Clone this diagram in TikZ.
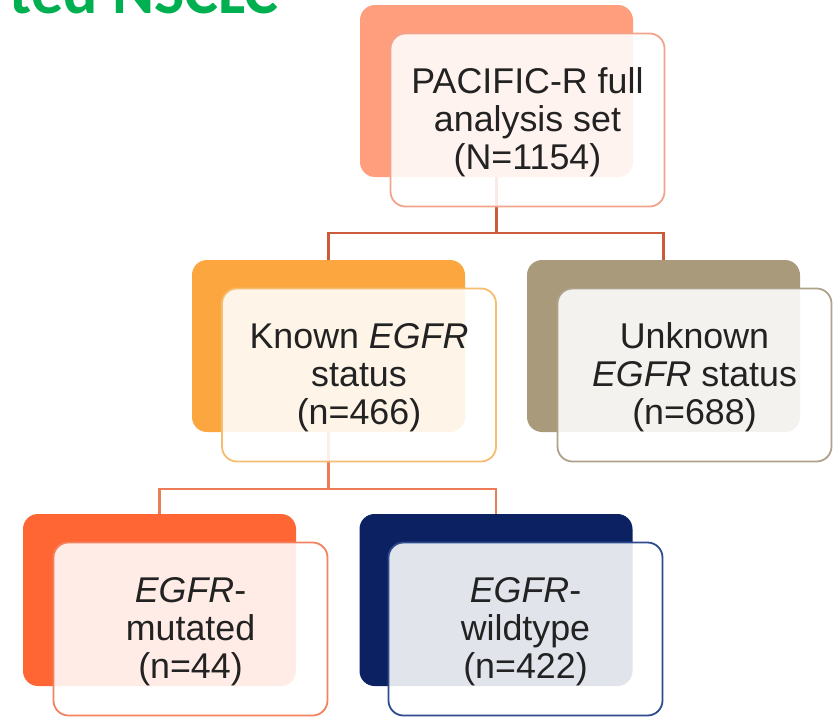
\documentclass[tikz,border=0pt]{standalone}
\usepackage{fontspec}
\setmainfont{Liberation Sans}
\newfontfamily\titlefont{Carlito}
\definecolor{titlegreen}{HTML}{00B050}
\definecolor{topback}{HTML}{FF9E7D}
\definecolor{topline}{HTML}{F2A38B}
\definecolor{knownback}{HTML}{FBA63F}
\definecolor{knownline}{HTML}{F7BC6E}
\definecolor{unkback}{HTML}{A99A7C}
\definecolor{unkline}{HTML}{AFA28A}
\definecolor{mutback}{HTML}{FF6633}
\definecolor{mutline}{HTML}{F38260}
\definecolor{wildback}{HTML}{0B2161}
\definecolor{wildline}{HTML}{2D4B8F}
\definecolor{connA}{HTML}{CC5A3C}
\definecolor{connB}{HTML}{EC7C58}
\definecolor{textgray}{HTML}{222222}
\begin{document}
\begin{tikzpicture}[x=1pt,y=-1pt,
  backbox/.style={rectangle, rounded corners=15pt, minimum width=273pt, minimum height=172pt, inner sep=0pt, fill=#1},
  frontbox/.style={rectangle, rounded corners=15pt, minimum width=274pt, minimum height=173pt, inner sep=0pt, draw=#1, line width=1.8pt, fill=white, fill opacity=0.88, text opacity=1, draw opacity=1, align=center, font=\fontsize{35.8}{38}\selectfont, text=textgray},
  connector/.style={draw=#1, line width=2.4pt}]
\useasboundingbox (0,0) rectangle (833,718);
\clip (0,0) rectangle (833,718);
\node[anchor=base east, inner sep=0pt, font=\titlefont\bfseries\fontsize{64}{64}\selectfont, text=titlegreen] (title) at (279,13) {ted NSCLC};
% back boxes
\node[backbox=topback] (topb) at (496.5,91) {};
\node[backbox=knownback] (knownb) at (328.5,346) {};
\node[backbox=unkback] (unkb) at (663.5,346) {};
\node[backbox=mutback] (mutb) at (159.5,600) {};
\node[backbox=wildback] (wildb) at (496,600) {};
% connectors
\coordinate (j1) at (496.5,233);
\coordinate (j2) at (328.5,489);
\draw[connector=connA] (topb.south) -- (j1);
\draw[connector=connA] (knownb.north) |- (j1) -| (unkb.north);
\draw[connector=connB] (knownb.south) -- (j2);
\draw[connector=connB] (mutb.north) |- (j2) -| (wildb.north);
% front boxes
\node[frontbox=topline] (topf) at (527.5,120) {};
\node[frontbox=knownline] (knownf) at (359,375) {};
\node[frontbox=unkline] (unkf) at (694.5,375) {};
\node[frontbox=mutline] (mutf) at (190.5,629) {};
\node[frontbox=wildline] (wildf) at (525.5,629) {};
% labels
\tikzset{boxtext/.style={align=center, inner sep=0pt, font=\fontsize{35.8}{38}\selectfont, text=textgray, yshift=-2.5pt}}
\node[boxtext] (topt) at (topf.center) {PACIFIC-R full\\analysis set\\(N=1154)};
\node[boxtext] (knownt) at (knownf.center) {Known \textit{EGFR}\\status\\(n=466)};
\node[boxtext] (unkt) at (unkf.center) {Unknown\\\textit{EGFR} status\\(n=688)};
\node[boxtext] (mutt) at (mutf.center) {\textit{EGFR}-\\mutated\\(n=44)};
\node[boxtext] (wildt) at (wildf.center) {\textit{EGFR}-\\wildtype\\(n=422)};
\end{tikzpicture}
\end{document}
